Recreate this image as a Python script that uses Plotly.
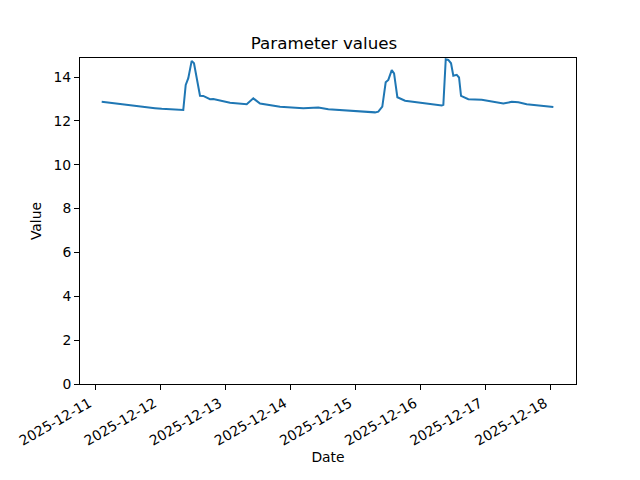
import plotly.graph_objects as go

dates = [
    "2025-12-11 02:24", "2025-12-11 09:09", "2025-12-11 15:53", "2025-12-11 22:02",
    "2025-12-12 00:31", "2025-12-12 05:25", "2025-12-12 08:28", "2025-12-12 09:22",
    "2025-12-12 10:19", "2025-12-12 11:34", "2025-12-12 12:25", "2025-12-12 14:38",
    "2025-12-12 15:50", "2025-12-12 18:19", "2025-12-12 19:32", "2025-12-13 01:42",
    "2025-12-13 07:51", "2025-12-13 10:17", "2025-12-13 12:46", "2025-12-13 20:08",
    "2025-12-14 04:43", "2025-12-14 10:15", "2025-12-14 13:56", "2025-12-15 07:09",
    "2025-12-15 08:22", "2025-12-15 09:50", "2025-12-15 11:05", "2025-12-15 12:03",
    "2025-12-15 13:19", "2025-12-15 14:10", "2025-12-15 15:23", "2025-12-15 18:13",
    "2025-12-16 01:35", "2025-12-16 07:45", "2025-12-16 08:20", "2025-12-16 09:13",
    "2025-12-16 10:10", "2025-12-16 11:10", "2025-12-16 12:01", "2025-12-16 13:16",
    "2025-12-16 14:07", "2025-12-16 14:51", "2025-12-16 17:33", "2025-12-16 22:29",
    "2025-12-17 06:27", "2025-12-17 09:33", "2025-12-17 11:59", "2025-12-17 15:04",
    "2025-12-18 00:53",
]
values = [
    12.87, 12.76, 12.68, 12.58,
    12.55, 12.50, 12.50, 13.64,
    13.95, 14.74, 14.63, 13.15,
    13.14, 12.99, 13.00, 12.83,
    12.76, 13.03, 12.79, 12.65,
    12.58, 12.61, 12.53, 12.39,
    12.42, 12.65, 13.76, 13.87,
    14.32, 14.17, 13.08, 12.92,
    12.80, 12.70, 12.73, 14.81,
    14.78, 14.63, 14.06, 14.10,
    13.98, 13.14, 12.99, 12.96,
    12.79, 12.87, 12.85, 12.76,
    12.64,
]

title = "Parameter values"
x_label = "Date"
y_label = "Value"

font = "DejaVu Sans"

fig = go.Figure(go.Scatter(
    x=dates, y=values, mode="lines",
    line=dict(color="#1f77b4", width=2),
))

fig.update_layout(
    width=632, height=472,
    margin=dict(l=72, r=64, t=50, b=96),
    paper_bgcolor="white", plot_bgcolor="white",
    showlegend=False,
    font=dict(family=font, size=13.9, color="black"),
    title=dict(text=title, x=0.5, xanchor="center", y=1 - 35 / 472, yanchor="middle",
               font=dict(size=16.7, family=font, color="black")),
)
fig.update_xaxes(
    type="date", automargin=False,
    range=["2025-12-10 18:24", "2025-12-18 09:14"],
    tick0="2025-12-11", dtick=86400000, tickformat="%Y-%m-%d",
    tickangle=-30, ticklabelshift=-6,
    showgrid=False, zeroline=False,
    showline=True, linecolor="black", linewidth=1, mirror=True,
    ticks="outside", ticklen=5, tickcolor="black",
    title=dict(text=x_label, font=dict(size=13.9), standoff=4),
)
fig.update_yaxes(
    automargin=False,
    range=[0, 14.87],
    tick0=0, dtick=2,
    showgrid=False, zeroline=False,
    showline=True, linecolor="black", linewidth=1, mirror=True,
    ticks="outside", ticklen=5, tickcolor="black",
    title=dict(text=y_label, font=dict(size=13.9), standoff=8),
)

fig.write_html("out.html")
